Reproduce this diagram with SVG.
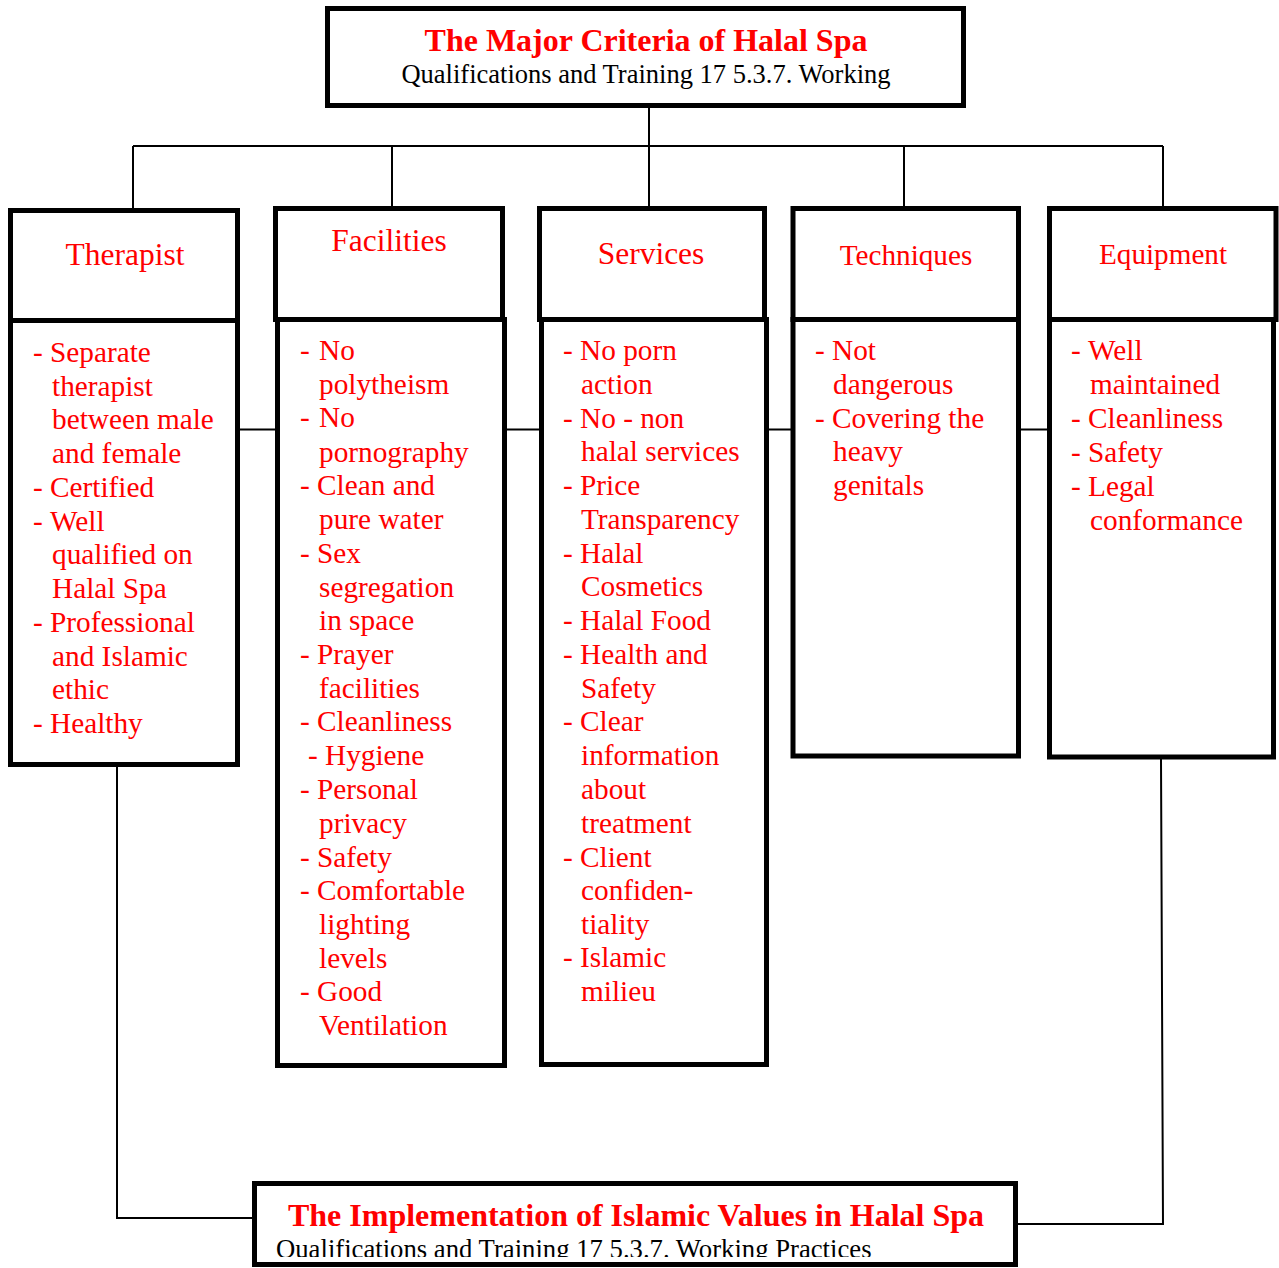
<svg xmlns="http://www.w3.org/2000/svg" width="1279" height="1268" viewBox="0 0 1279 1268">
<style>
  .box { fill: #fff; stroke: #000; stroke-width: 5; }
  .conn { fill: none; stroke: #000; stroke-width: 2; }
  .title { font-family: "Liberation Serif", "Times New Roman", serif; font-weight: bold; font-size: 32px; fill: #ff0000; text-anchor: middle; }
  .sub { font-family: "Liberation Serif", "Times New Roman", serif; font-size: 26.5px; fill: #000; }
  .head { font-family: "Liberation Serif", "Times New Roman", serif; font-size: 31.5px; fill: #ff0000; text-anchor: middle; }
  .head2 { font-family: "Liberation Serif", "Times New Roman", serif; font-size: 29.2px; fill: #ff0000; text-anchor: middle; }
  .item { font-family: "Liberation Serif", "Times New Roman", serif; font-size: 29.3px; fill: #ff0000; }
</style>
<defs>
  <clipPath id="bclip"><rect x="257" y="1186" width="756" height="71"/></clipPath>
</defs>
<rect width="1279" height="1268" fill="#fff"/>

<g id="connectors">
  <path class="conn" d="M649 108 V146 M133 146 H1163 M133 146 V208 M392 146 V206 M649 146 V206 M904 146 V206 M1163 146 V206"/>
  <path class="conn" d="M240 429.5 H276 M505 429.5 H539 M768 429.5 H791 M1020 429.5 H1048"/>
  <path class="conn" d="M117 766 V1218 H253"/>
  <path class="conn" d="M1161 759 L1163 1224 H1018"/>
</g>

<g id="top">
  <rect class="box" x="327.5" y="8.5" width="636" height="97"/>
  <text class="title" x="646" y="51">The Major Criteria of Halal Spa</text>
  <text class="sub" x="646" y="83" text-anchor="middle">Qualifications and Training 17 5.3.7. Working</text>
</g>

<g id="therapist">
  <rect class="box" x="10.5" y="210.5" width="227" height="110"/>
  <rect class="box" x="10.5" y="320.5" width="227" height="444"/>
  <text class="head" x="125" y="265">Therapist</text>
  <text class="item"><tspan x="33" y="362">-</tspan><tspan x="50" y="362">Separate</tspan>
    <tspan x="52" y="396">therapist</tspan>
    <tspan x="52" y="429">between male</tspan>
    <tspan x="52" y="463">and female</tspan>
    <tspan x="33" y="497">-</tspan><tspan x="50" y="497">Certified</tspan>
    <tspan x="33" y="531">-</tspan><tspan x="50" y="531">Well</tspan>
    <tspan x="52" y="564">qualified on</tspan>
    <tspan x="52" y="598">Halal Spa</tspan>
    <tspan x="33" y="632">-</tspan><tspan x="50" y="632">Professional</tspan>
    <tspan x="52" y="666">and Islamic</tspan>
    <tspan x="52" y="699">ethic</tspan>
    <tspan x="33" y="733">-</tspan><tspan x="50" y="733">Healthy</tspan></text>
</g>

<g id="facilities">
  <rect class="box" x="275.5" y="208.5" width="227" height="111"/>
  <rect class="box" x="277.5" y="319.5" width="227" height="746"/>
  <text class="head" x="389" y="251">Facilities</text>
  <text class="item"><tspan x="300" y="360">-</tspan><tspan x="319" y="360">No</tspan>
    <tspan x="319" y="394">polytheism</tspan>
    <tspan x="300" y="427">-</tspan><tspan x="319" y="427">No</tspan>
    <tspan x="319" y="462">pornography</tspan>
    <tspan x="300" y="495">-</tspan><tspan x="317" y="495">Clean and</tspan>
    <tspan x="319" y="529">pure water</tspan>
    <tspan x="300" y="563">-</tspan><tspan x="317" y="563">Sex</tspan>
    <tspan x="319" y="597">segregation</tspan>
    <tspan x="319" y="630">in space</tspan>
    <tspan x="300" y="664">-</tspan><tspan x="317" y="664">Prayer</tspan>
    <tspan x="319" y="698">facilities</tspan>
    <tspan x="300" y="731">-</tspan><tspan x="317" y="731">Cleanliness</tspan>
    <tspan x="308" y="765">-</tspan><tspan x="325" y="765">Hygiene</tspan>
    <tspan x="300" y="799">-</tspan><tspan x="317" y="799">Personal</tspan>
    <tspan x="319" y="833">privacy</tspan>
    <tspan x="300" y="867">-</tspan><tspan x="317" y="867">Safety</tspan>
    <tspan x="300" y="900">-</tspan><tspan x="317" y="900">Comfortable</tspan>
    <tspan x="319" y="934">lighting</tspan>
    <tspan x="319" y="968">levels</tspan>
    <tspan x="300" y="1001">-</tspan><tspan x="317" y="1001">Good</tspan>
    <tspan x="319" y="1035">Ventilation</tspan></text>
</g>

<g id="services">
  <rect class="box" x="539.5" y="208.5" width="225" height="111"/>
  <rect class="box" x="541.5" y="319.5" width="225" height="745"/>
  <text class="head" x="651" y="264">Services</text>
  <text class="item"><tspan x="563" y="360">-</tspan><tspan x="580" y="360">No porn</tspan>
    <tspan x="581" y="394">action</tspan>
    <tspan x="563" y="428">-</tspan><tspan x="580" y="428">No - non</tspan>
    <tspan x="581" y="461">halal services</tspan>
    <tspan x="563" y="495">-</tspan><tspan x="580" y="495">Price</tspan>
    <tspan x="581" y="529">Transparency</tspan>
    <tspan x="563" y="563">-</tspan><tspan x="580" y="563">Halal</tspan>
    <tspan x="581" y="596">Cosmetics</tspan>
    <tspan x="563" y="630">-</tspan><tspan x="580" y="630">Halal Food</tspan>
    <tspan x="563" y="664">-</tspan><tspan x="580" y="664">Health and</tspan>
    <tspan x="581" y="698">Safety</tspan>
    <tspan x="563" y="731">-</tspan><tspan x="580" y="731">Clear</tspan>
    <tspan x="581" y="765">information</tspan>
    <tspan x="581" y="799">about</tspan>
    <tspan x="581" y="833">treatment</tspan>
    <tspan x="563" y="867">-</tspan><tspan x="580" y="867">Client</tspan>
    <tspan x="581" y="900">confiden-</tspan>
    <tspan x="581" y="934">tiality</tspan>
    <tspan x="563" y="967">-</tspan><tspan x="580" y="967">Islamic</tspan>
    <tspan x="581" y="1001">milieu</tspan></text>
</g>

<g id="techniques">
  <rect class="box" x="793" y="208.5" width="225.5" height="111"/>
  <rect class="box" x="793" y="319.5" width="225.5" height="436.5"/>
  <text class="head2" x="906" y="265">Techniques</text>
  <text class="item"><tspan x="815" y="360">-</tspan><tspan x="832" y="360">Not</tspan>
    <tspan x="833" y="394">dangerous</tspan>
    <tspan x="815" y="428">-</tspan><tspan x="832" y="428">Covering the</tspan>
    <tspan x="833" y="461">heavy</tspan>
    <tspan x="833" y="495">genitals</tspan></text>
</g>

<g id="equipment">
  <rect class="box" x="1049.5" y="208.5" width="226.5" height="111"/>
  <rect class="box" x="1049.5" y="319.5" width="224" height="437.5"/>
  <text class="head2" x="1163" y="264">Equipment</text>
  <text class="item"><tspan x="1071" y="360">-</tspan><tspan x="1088" y="360">Well</tspan>
    <tspan x="1090" y="394">maintained</tspan>
    <tspan x="1071" y="428">-</tspan><tspan x="1088" y="428">Cleanliness</tspan>
    <tspan x="1071" y="462">-</tspan><tspan x="1088" y="462">Safety</tspan>
    <tspan x="1071" y="496">-</tspan><tspan x="1088" y="496">Legal</tspan>
    <tspan x="1090" y="530">conformance</tspan></text>
</g>

<g id="bottom">
  <rect class="box" x="254.5" y="1183.5" width="761" height="81"/>
  <text class="title" x="636" y="1226">The Implementation of Islamic Values in Halal Spa</text>
  <g clip-path="url(#bclip)">
    <text class="sub" x="276" y="1258" style="font-size:26.7px">Qualifications and Training 17 5.3.7. Working Practices</text>
  </g>
</g>
</svg>
